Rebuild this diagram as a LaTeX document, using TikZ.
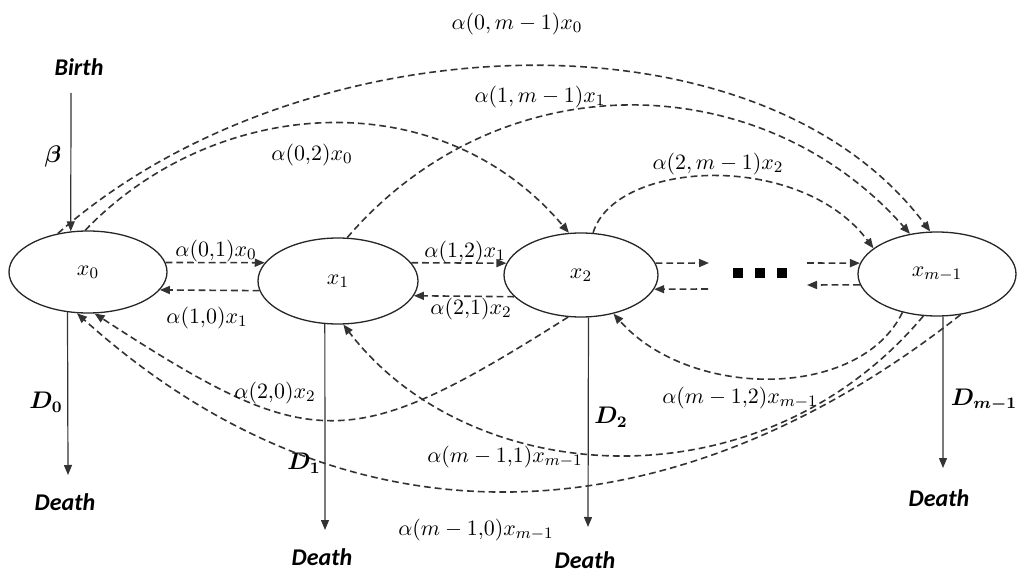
\documentclass[tikz,border=0pt]{standalone}
\usepackage{fontspec}
\newfontfamily\carl{Carlito}
\usetikzlibrary{arrows.meta,shapes.geometric}
\begin{document}
\begin{tikzpicture}[x=0.5pt,y=-0.5pt,
  state/.style={ellipse, draw=black!85, line width=0.65pt, inner sep=0pt, font=\fontsize{10.95}{12}\selectfont},
  flow/.style={draw=black!80, line width=0.8pt, dash pattern=on 3.4pt off 2pt, -{Triangle[length=5pt,width=4pt]}},
  vline/.style={draw=black!80, line width=0.6pt, -{Triangle[length=5pt,width=4pt]}},
  word/.style={font=\carl\bfseries\itshape\fontsize{12}{14}\selectfont, inner sep=0pt},
  rate/.style={font=\fontsize{10.95}{12}\selectfont, inner sep=0pt},
  bsym/.style={font=\fontsize{12}{14}\selectfont\mathversion{bold}, inner sep=0pt},
  sq/.style={rectangle, fill=black, minimum size=5pt, inner sep=0pt}]
\useasboundingbox (0,0) rectangle (1017,572);

% states
\node[state, minimum width=79pt, minimum height=41pt] (x0) at (88,272) {$x_0$};
\node[state, minimum width=80pt, minimum height=43pt] (x1) at (338,281) {$x_1$};
\node[state, minimum width=77pt, minimum height=42pt] (x2) at (581,275) {$x_2$};
\node[state, minimum width=79pt, minimum height=42pt] (xm) at (937,274) {$x_{m-1}$};

% dots
\node[sq] (s1) at (738,273) {};
\node[sq] (s2) at (760,273) {};
\node[sq] (s3) at (782,273) {};

% free ends
\coordinate (bt) at (71,93);
\coordinate (e0) at (68,475);
\coordinate (e1) at (325,530);
\coordinate (e2) at (588,527);
\coordinate (em) at (943,468);
\coordinate (da) at (709,263);
\coordinate (db) at (708,289);
\coordinate (dc) at (807,263);
\coordinate (dd) at (807,285);

% birth / death
\node[word] (birth) at (79,67) {Birth};
\node[bsym] (beta) at (53,157) {$\beta$};
\draw[vline] (bt) -- (x0.113);

\draw[vline] (x0.243) -- (e0);
\draw[vline] (x1.253) -- (e1);
\draw[vline] (x2.280) -- (e2);
\draw[vline] (xm.278) -- (em);
\node[bsym] (d0) at (46,402) {$D_0$};
\node[bsym] (d1) at (304,463) {$D_1$};
\node[bsym] (d2) at (611,417) {$D_2$};
\node[bsym] (dm) at (984,400) {$D_{m-1}$};
\node[word] (death0) at (65,502) {Death};
\node[word] (death1) at (322,557) {Death};
\node[word] (death2) at (585,560) {Death};
\node[word] (deathm) at (939,498) {Death};

% neighbour transitions
\draw[flow] (x0.7) -- (x1.166);
\draw[flow] (x1.187) -- (x0.346);
\draw[flow] (x1.14) -- (x2.171);
\draw[flow] (x2.198) -- (x1.349);
\draw[flow] (x2.9) -- (da);
\draw[flow] (db) -- (x2.349);
\draw[flow] (dc) -- (xm.172);
\draw[flow] (xm.188) -- (dd);

% long jumps (top)
\draw[flow] (x0.128) .. controls (300,20) and (758,2) .. (xm.99);
\draw[flow] (x1.78) .. controls (500,60) and (761,65) .. (xm.124);
\draw[flow] (x0.94) .. controls (215,95) and (440,80) .. (x2.106);
\draw[flow] (x2.74) .. controls (615,160) and (800,150) .. (xm.158);

% long jumps (bottom)
\draw[flow] (x2.253) .. controls (350,455) and (312,455) .. (x0.279);
\draw[flow] (xm.300) .. controls (681,535) and (357,565) .. (x0.255);
\draw[flow] (xm.252) .. controls (760,510) and (470,490) .. (x1.277);
\draw[flow] (xm.228) .. controls (860,400) and (690,400) .. (x2.310);

% rate labels
\node[rate] (l01) at (216,251) {$\alpha(0{,}1)x_0$};
\node[rate] (l10) at (207,318) {$\alpha(1{,}0)x_1$};
\node[rate] (l12) at (465,252) {$\alpha(1{,}2)x_1$};
\node[rate] (l21) at (471,309) {$\alpha(2{,}1)x_2$};
\node[rate] (l02) at (312,155) {$\alpha(0{,}2)x_0$};
\node[rate] (l0m) at (517,24) {$\alpha(0,m-1)x_0$};
\node[rate] (l1m) at (540,97) {$\alpha(1,m-1)x_1$};
\node[rate] (l2m) at (718,164) {$\alpha(2,m-1)x_2$};
\node[rate] (l20) at (275,393) {$\alpha(2{,}0)x_2$};
\node[rate] (lm1) at (505,457) {$\alpha(m-1{,}1)x_{m-1}$};
\node[rate] (lm0) at (476,530) {$\alpha(m-1{,}0)x_{m-1}$};
\node[rate] (lm2) at (740,398) {$\alpha(m-1{,}2)x_{m-1}$};
\end{tikzpicture}
\end{document}
